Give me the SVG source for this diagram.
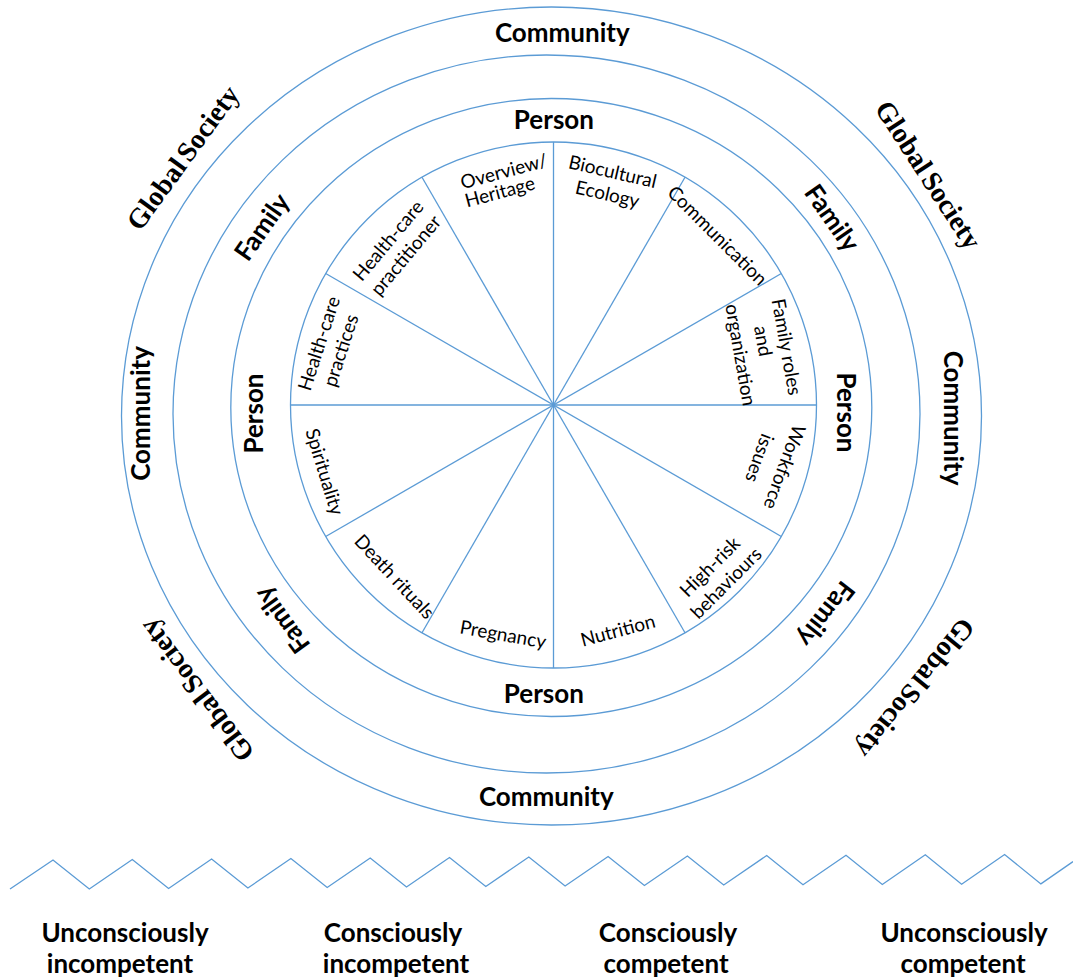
<svg xmlns="http://www.w3.org/2000/svg" width="1073" height="978" viewBox="0 0 1073 978">
<style>
.ring{fill:none;stroke:#5B9BD5;stroke-width:1.3}
.big{font-family:Lato,'Liberation Sans',sans-serif;font-weight:700;font-size:26px;text-anchor:middle;fill:#000}
.gs{font-family:'Liberation Serif',serif;font-weight:700;font-size:28px;text-anchor:middle;word-spacing:-3px;fill:#000}
.sec{font-family:Lato,'Liberation Sans',sans-serif;font-size:19px;text-anchor:middle;fill:#000}
</style>
<rect width="1073" height="978" fill="#fff"/>
<g id="rings">
<ellipse id="ring-global" class="ring" cx="551.5" cy="416" rx="430" ry="409"/>
<ellipse id="ring-community" class="ring" cx="546.5" cy="414" rx="373.5" ry="359"/>
<ellipse id="ring-family" class="ring" cx="551.3" cy="407.5" rx="320.5" ry="309"/>
<circle id="ring-person" class="ring" cx="553.5" cy="405" r="263"/>
</g>
<g id="connectors">
<line class="ring" x1="290.5" y1="405" x2="816.5" y2="405"/>
<line class="ring" x1="553.5" y1="142" x2="553.5" y2="668"/>
<line class="ring" x1="325.7" y1="273.5" x2="781.3" y2="536.5"/>
<line class="ring" x1="325.7" y1="536.5" x2="781.3" y2="273.5"/>
<line class="ring" x1="422" y1="177.2" x2="685" y2="632.8"/>
<line class="ring" x1="422" y1="632.8" x2="685" y2="177.2"/>
</g>
<g id="labels-community">
<text class="big" x="562.3" y="41.5">Community</text>
<text class="big" x="546.3" y="805.7">Community</text>
<text class="big" transform="translate(150,413.5) rotate(-90)">Community</text>
<text class="big" transform="translate(944,418) rotate(90)">Community</text>
</g>
<g id="labels-person">
<text class="big" x="553.9" y="129.3">Person</text>
<text class="big" x="543.8" y="702.7">Person</text>
<text class="big" transform="translate(263,413.5) rotate(-90)">Person</text>
<text class="big" transform="translate(837,412.5) rotate(90)">Person</text>
</g>
<g id="labels-family">
<text class="big" transform="translate(262,227) rotate(-55)" y="9">Family</text>
<text class="big" transform="translate(832,218) rotate(55)" y="9">Family</text>
<text class="big" transform="translate(282,620) rotate(-126)" y="9">Family</text>
<text class="big" transform="translate(826,614) rotate(128)" y="9">Family</text>
</g>
<g id="labels-global">
<text class="gs" transform="translate(183,158) rotate(-54)" y="9">Global Society</text>
<text class="gs" transform="translate(928,175) rotate(57)" y="9">Global Society</text>
<text class="gs" transform="translate(197,690) rotate(-127)" y="9">Global Society</text>
<text class="gs" transform="translate(915,688) rotate(129)" y="9">Global Society</text>
</g>
<g id="sector-overview">
<text class="sec" transform="translate(504,172) rotate(-15)" y="6">Overview/</text>
<text class="sec" transform="translate(500,192.5) rotate(-15)" y="6">Heritage</text>
</g>
<g id="sector-biocultural"><text class="sec" transform="translate(610,183) rotate(13)"><tspan x="0" y="-5">Biocultural</tspan><tspan x="0" y="18">Ecology</tspan></text></g>
<g id="sector-communication"><text class="sec" transform="translate(717,236) rotate(45)" y="6">Communication</text></g>
<g id="sector-family-roles">
<text class="sec" transform="translate(786,347) rotate(80)" y="6">Family roles</text>
<text class="sec" transform="translate(762.5,341) rotate(80)" y="6">and</text>
<text class="sec" transform="translate(740,355) rotate(80)" y="6">organization</text>
</g>
<g id="sector-workforce">
<text class="sec" transform="translate(784,467) rotate(110)" y="6">Workforce</text>
<text class="sec" transform="translate(759,458) rotate(110)" y="6">issues</text>
</g>
<g id="sector-high-risk"><text class="sec" transform="translate(718,575) rotate(-45)"><tspan x="0" y="-5">High-risk</tspan><tspan x="0" y="18">behaviours</tspan></text></g>
<g id="sector-nutrition"><text class="sec" transform="translate(618,631) rotate(-15)" y="6">Nutrition</text></g>
<g id="sector-pregnancy"><text class="sec" transform="translate(503,635) rotate(10)" y="6">Pregnancy</text></g>
<g id="sector-death"><text class="sec" transform="translate(394,577) rotate(47)" y="6">Death rituals</text></g>
<g id="sector-spirituality"><text class="sec" transform="translate(324,472) rotate(73)" y="6">Spirituality</text></g>
<g id="sector-hc-practices"><text class="sec" transform="translate(330,347) rotate(-72)"><tspan x="0" y="-5">Health-care</tspan><tspan x="0" y="18">practices</tspan></text></g>
<g id="sector-hc-practitioner"><text class="sec" transform="translate(397,248) rotate(-50)"><tspan x="0" y="-5">Health-care</tspan><tspan x="0" y="18">practitioner</tspan></text></g>
<g id="scale">
<polyline class="ring" points="10,889 53,860 89.3,889 132.3,859.5 168.6,888.5 211.6,859 247.9,888 290.9,858.5 327.2,887.5 370.2,858 406.5,887 449.5,857.5 485.8,886.5 528.8,857 565.1,886 608.1,856.5 644.4,885.5 687.4,856 723.7,885 766.7,855.5 803,884.8 846,855.2 882.3,884.5 925.3,854.8 961.6,884.2 1004.6,854.5 1040.9,883.9 1073,861.6"/>
</g>
<g id="stage-1"><text class="big"><tspan x="125" y="942">Unconsciously</tspan><tspan x="120" y="973">incompetent</tspan></text></g>
<g id="stage-2"><text class="big"><tspan x="393" y="942">Consciously</tspan><tspan x="396" y="973">incompetent</tspan></text></g>
<g id="stage-3"><text class="big"><tspan x="668" y="942">Consciously</tspan><tspan x="666" y="973">competent</tspan></text></g>
<g id="stage-4"><text class="big"><tspan x="964" y="942">Unconsciously</tspan><tspan x="963" y="973">competent</tspan></text></g>
</svg>
